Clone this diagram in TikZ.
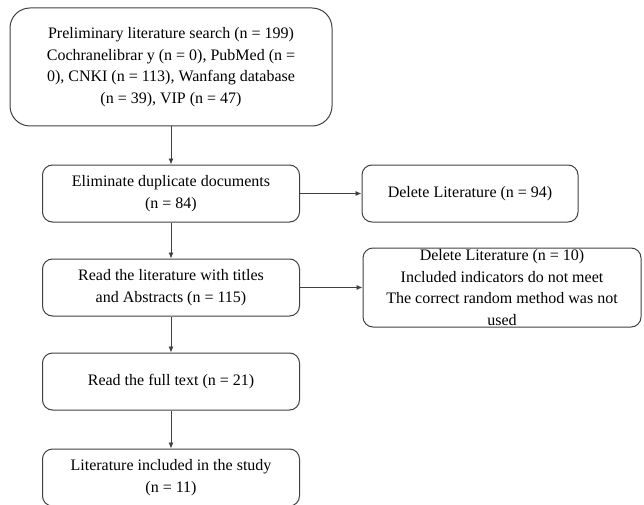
\documentclass[tikz,border=0pt]{standalone}
\usepackage{fontspec}
\setmainfont{Liberation Serif}
\usetikzlibrary{arrows.meta}

\begin{document}
\begin{tikzpicture}[x=1pt,y=1pt,-{Latex[length=6pt,width=5pt]},draw=black!75,line width=0.9pt]
        \tikzstyle{box}=[draw=black!75,line width=1pt,rounded corners=10pt,align=center,font=\fontsize{16}{21.5}\selectfont,inner sep=0pt]
        \tikzstyle{step box}=[box,minimum width=257pt,minimum height=57pt]
        \tikzstyle{search box}=[box,rounded corners=20pt,minimum width=322pt,minimum height=118pt]
        \tikzstyle{delete box}=[box,minimum height=57pt]

        \useasboundingbox (0,0) rectangle (644,-505);

        % Draw the search box
        \node[search box] (search) at (171,-67) {Preliminary literature search (n = 199)\\Cochranelibrar y (n = 0), PubMed (n =\\0), CNKI (n = 113), Wanfang database\\(n = 39), VIP (n = 47)};

        % Draw the screening steps
        \node[step box] (dup) at (171,-193.5) {Eliminate duplicate documents\\(n = 84)};
        \node[step box] (abs) at (171,-287.5) {Read the literature with titles\\and Abstracts (n = 115)};
        \node[step box] (full) at (171,-381.5) {Read the full text (n = 21)};
        \node[step box] (incl) at (171,-477.5) {Literature included in the study\\(n = 11)};

        % Draw the excluded boxes
        \node[delete box,minimum width=216pt] (del-1) at (470,-193.5) {Delete Literature (n = 94)};
        \node[delete box,minimum width=278pt,minimum height=79pt] (del-2) at (502,-287.5) {Delete Literature (n = 10)\\Included indicators do not meet\\The correct random method was not\\used};

        % Connect the steps
        \draw (search) -- (dup);
        \draw (dup) -- (abs);
        \draw (abs) -- (full);
        \draw (full) -- (incl);

        % Connect the steps with the excluded boxes
        \draw (dup) -- (del-1);
        \draw (abs.east) -- (del-2.west);
\end{tikzpicture}
\end{document}
